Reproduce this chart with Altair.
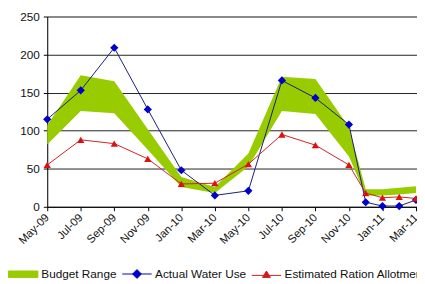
import json
import altair as alt
import pandas as pd

# ---- data ----
months = ["May-09", "Jul-09", "Sep-09", "Nov-09", "Jan-10", "Mar-10", "May-10",
          "Jul-10", "Sep-10", "Nov-10", "Dec-10", "Jan-11", "Feb-11", "Mar-11"]
tick_labels = ["May-09", "Jul-09", "Sep-09", "Nov-09", "Jan-10", "Mar-10",
               "May-10", "Jul-10", "Sep-10", "Nov-10", "Jan-11", "Mar-11"]
actual = [115, 153, 209, 128, 48, 15, 21, 166, 143, 108, 6, 1, 1, 9]
ration = [55, 88, 83, 63, 30, 31, 56, 95, 81, 55, 18, 12, 13, 11]
budget_low = [82, 126, 123, 75, 26, 18, 53, 126, 122, 66, 15, 15, 16, 18]
budget_high = [107, 173, 165, 102, 39, 26, 70, 171, 168, 105, 23, 23, 25, 27]
y_ticks = [0, 50, 100, 150, 200, 250]

series_names = ["Budget Range", "Actual Water Use", "Estimated Ration Allotment"]
series_fill = ["#99cc00", "#0000cc", "#dd1111"]
series_stroke = ["#99cc00", "#0000cc", "#cc2222"]
legend_shapes = [
    "M-1,-0.22H1V0.22H-1Z",
    "M-1,0H1M0,-0.3L0.3,0L0,0.3L-0.3,0Z",
    "M-1,0.08H1M0,-0.22L0.27,0.22L-0.27,0.22Z",
]

MON = {"Jan": 1, "Feb": 2, "Mar": 3, "Apr": 4, "May": 5, "Jun": 6, "Jul": 7,
       "Aug": 8, "Sep": 9, "Oct": 10, "Nov": 11, "Dec": 12}


def month_index(lbl):
    m, y = lbl.split("-")
    return (2000 + int(y)) * 12 + MON[m] - (2009 * 12 + 5)


df = pd.DataFrame({
    "m": [month_index(s) for s in months],
    "label": months,
    "actual": actual,
    "ration": ration,
    "low": budget_low,
    "high": budget_high,
})
tick_vals = [month_index(s) for s in tick_labels]
label_expr = f"{json.dumps(tick_labels)}[indexof({json.dumps(tick_vals)}, datum.value)]"

FONT = "Liberation Sans"

x = alt.X("m:Q",
          scale=alt.Scale(domain=[0, 22.06], nice=False, zero=False),
          axis=alt.Axis(values=tick_vals, labelExpr=label_expr, labelAngle=-45,
                        labelAlign="right", labelBaseline="middle",
                        labelFontSize=11.5, labelColor="#111", labelPadding=5,
                        tickSize=4, tickColor="#000", domainColor="#000",
                        grid=False, title=None, labelOverlap=False,
                        labelBound=False, labelFlush=False))
yscale = alt.Scale(domain=[0, 250], nice=False)
yaxis = alt.Axis(values=y_ticks, grid=True, gridColor="#222", gridWidth=1,
                 tickSize=4, tickColor="#000", domainColor="#000",
                 labelFontSize=12, labelColor="#111", labelPadding=4, title=None,
                 labelOverlap=False)


def yenc(field):
    return alt.Y(field, scale=yscale, axis=yaxis)


base = alt.Chart(df)

area = base.mark_area(color="#99cc00", opacity=1).encode(
    x=x, y=yenc("high:Q"), y2="low:Q",
)

blue_line = base.mark_line(color="#1a1a80", strokeWidth=1).encode(x=x, y=yenc("actual:Q"))
blue_pts = base.mark_point(shape="diamond", filled=True, color="#0000cc", size=70, opacity=1).encode(
    x=x, y=yenc("actual:Q"))
red_line = base.mark_line(color="#cc2222", strokeWidth=1).encode(x=x, y=yenc("ration:Q"))
red_pts = base.mark_point(shape="triangle-up", filled=True, color="#dd1111", size=55, opacity=1).encode(
    x=x, y=yenc("ration:Q"))

leg = alt.Legend(orient="none", legendX=-40, legendY=247, direction="horizontal",
                 title=None, symbolSize=900, labelOffset=3, columnPadding=3,
                 labelFontSize=12, labelFont=FONT, labelColor="#111", padding=0,
                 symbolStrokeWidth=1, labelLimit=300)

legend_df = pd.DataFrame({"series": series_names})
legend_layer = alt.Chart(legend_df).mark_point(filled=True, opacity=1, strokeWidth=1).encode(
    x=alt.value(0), y=alt.value(0),
    fill=alt.Fill("series:N", scale=alt.Scale(domain=series_names, range=series_fill), legend=leg),
    stroke=alt.Stroke("series:N", scale=alt.Scale(domain=series_names, range=series_stroke), legend=leg),
    shape=alt.Shape("series:N", scale=alt.Scale(domain=series_names, range=legend_shapes), legend=leg),
).transform_filter("false")

chart = alt.layer(area, blue_line, red_line, blue_pts, red_pts, legend_layer).properties(
    width=377, height=194,
    autosize=alt.AutoSizeParams(type="none"),
    padding={"left": 40, "top": 6, "right": 0, "bottom": 75},
    background="white",
).configure_view(strokeWidth=0).configure(font=FONT)

chart.save("out.html", embed_options={"renderer": "svg", "actions": False})
